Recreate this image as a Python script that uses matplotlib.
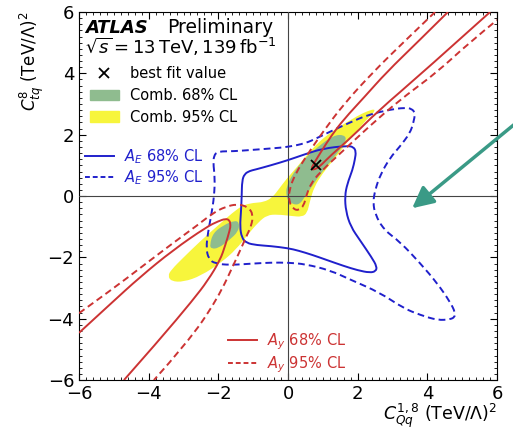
import matplotlib
matplotlib.use('Agg')
import matplotlib.pyplot as plt
from matplotlib.lines import Line2D
from matplotlib.patches import Patch, PathPatch
from matplotlib.path import Path
from matplotlib.ticker import MultipleLocator

# contour points, (C_Qq^{1,8}, C_tq^8)
comb95_x = [-3.45, -3.35, -3.0, -2.5, -2.0, -1.6, -1.3, -1.0, -0.7, -0.45, -0.25, -0.05, 0.26, 0.6, 0.9, 1.2, 1.5, 2.0, 2.3, 2.5,
            2.45, 2.3, 2.0, 1.75, 1.5, 1.25, 1.0, 0.75, 0.62, 0.55, 0.4, 0.1, -0.3, -0.6, -0.85, -1.15, -1.5, -1.9, -2.5, -3.0, -3.35]
comb95_y = [-2.6, -2.4, -2.0, -1.45, -0.95, -0.55, -0.3, -0.22, -0.2, -0.05, 0.25, 0.55, 0.95, 1.42, 1.78, 2.05, 2.28, 2.62, 2.78, 2.84,
            2.7, 2.55, 2.15, 1.85, 1.45, 1.1, 0.75, 0.3, -0.2, -0.55, -0.68, -0.65, -0.6, -0.62, -0.85, -1.25, -1.75, -2.15, -2.6, -2.8, -2.78]

comb68a_x = [0.02, 0.3, 0.5, 0.9, 1.35, 1.68, 1.62, 1.3, 0.85, 0.45, 0.12, -0.05, -0.05]
comb68a_y = [-0.2, -0.32, 0.0, 0.68, 1.3, 1.8, 2.0, 1.98, 1.6, 1.2, 0.7, 0.3, 0.0]
comb68b_x = [-2.25, -2.15, -1.85, -1.55, -1.4, -1.42, -1.7, -2.0, -2.2]
comb68b_y = [-1.6, -1.2, -0.95, -0.8, -0.85, -1.15, -1.45, -1.7, -1.72]

ae68_x = [-1.33, -1.32, -1.25, -1.1, -0.95, -0.5, 0.0, 0.45, 1.0, 1.7, 1.88, 1.95, 1.92, 1.85, 1.7, 1.63, 1.66, 1.8, 2.07, 2.4,
          2.55, 2.52, 2.35, 2.0, 1.6, 1.1, 0.7, 0.3, 0.0, -0.5, -0.9, -1.2, -1.33, -1.38, -1.35]
ae68_y = [0.0, 0.5, 0.72, 0.82, 0.86, 1.0, 1.17, 1.35, 1.55, 1.64, 1.6, 1.45, 1.2, 0.85, 0.4, 0.0, -0.5, -1.0, -1.45, -2.0,
          -2.3, -2.45, -2.5, -2.42, -2.28, -2.08, -1.92, -1.78, -1.7, -1.63, -1.6, -1.53, -1.35, -1.0, -0.5]

ae95_x = [-2.15, -2.12, -2.05, -1.9, -1.58, -1.09, -0.5, 0.0, 0.5, 0.83, 1.3, 1.78, 2.3, 2.93, 3.35, 3.55, 3.65, 3.6, 3.5, 3.2,
          2.93, 2.65, 2.5, 2.44, 2.5, 2.75, 3.22, 3.8, 4.28, 4.65, 4.8, 4.78, 4.65, 4.3, 3.8, 3.3, 2.64, 1.78, 1.2, 0.5,
          0.0, -0.5, -1.0, -1.67, -2.1, -2.28, -2.35, -2.3, -2.2, -2.12, -2.1]
ae95_y = [1.1, 1.32, 1.42, 1.46, 1.46, 1.5, 1.55, 1.6, 1.72, 1.89, 2.15, 2.4, 2.65, 2.82, 2.88, 2.85, 2.7, 2.4, 2.05, 1.6,
          1.25, 0.7, 0.2, -0.2, -0.6, -1.1, -1.5, -2.2, -2.84, -3.45, -3.8, -3.95, -4.02, -4.05, -3.88, -3.65, -3.15, -2.72, -2.42, -2.22,
          -2.17, -2.17, -2.2, -2.25, -2.2, -2.05, -1.7, -1.2, -0.6, 0.0, 0.6]

ay68_lo_x = [-6, -5.1, -4.25, -3.3, -2.33, -2.0, -1.8, -1.68, -1.65, -1.67, -1.8, -1.95, -2.3, -2.73, -3.7, -4.71]
ay68_lo_y = [-4.46, -3.52, -2.64, -1.76, -1.0, -0.82, -0.74, -0.78, -0.95, -1.1, -1.6, -2.09, -2.75, -3.39, -4.7, -6]
ay68_hi_x = [4.59, 3.7, 2.83, 2.2, 1.6, 1.25, 0.95, 0.75, 0.66, 0.74, 0.9, 1.2, 1.9, 2.55, 3.88, 5.8]
ay68_hi_y = [6, 5.0, 4.04, 3.24, 2.5, 1.98, 1.45, 1.08, 0.88, 0.86, 0.95, 1.3, 2.0, 2.74, 4.04, 6]

ay95_lo_x = [-6, -5, -4.25, -3.3, -2.6, -2.15, -1.8, -1.46, -1.15, -1.0, -1.05, -1.15, -1.46, -2.04, -2.9, -3.85]
ay95_lo_y = [-3.82, -3.0, -2.35, -1.53, -0.95, -0.55, -0.35, -0.26, -0.35, -0.6, -0.95, -1.2, -1.99, -3.39, -4.8, -6]
ay95_hi_x = [4.22, 3.3, 2.44, 1.6, 1.0, 0.55, 0.2, 0.03, 0.03, 0.15, 0.3, 0.45, 0.52, 0.65, 0.92, 1.6, 2.6, 3.4, 4.28, 5.2, 6]
ay95_hi_y = [6, 5.0, 4.04, 3.0, 2.09, 1.35, 0.7, 0.2, -0.2, -0.42, -0.47, -0.32, 0.0, 0.4, 0.78, 1.5, 2.55, 3.3, 4.04, 5.0, 5.74]

best_x, best_y = 0.8, 1.0

ticks = [-6, -4, -2, 0, 2, 4, 6]

c_red = '#cc3333'
c_blue = '#2020cc'
c_green = '#8fbc8f'
c_yellow = '#f7f53c'
dash = (2.5, 1.5)


def smooth(xs, ys, closed):
    # quadratic b-spline path with the read points as control points
    p = list(zip(xs, ys))
    mid = lambda a, b: ((a[0] + b[0]) / 2, (a[1] + b[1]) / 2)
    if closed:
        n = len(p)
        verts = [mid(p[-1], p[0])]
        codes = [Path.MOVETO]
        for i in range(n):
            verts += [p[i], mid(p[i], p[(i + 1) % n])]
            codes += [Path.CURVE3, Path.CURVE3]
        verts.append(verts[0])
        codes.append(Path.CLOSEPOLY)
    else:
        verts = [p[0]]
        codes = [Path.MOVETO]
        for i in range(1, len(p) - 2):
            verts += [p[i], mid(p[i], p[i + 1])]
            codes += [Path.CURVE3, Path.CURVE3]
        verts += [p[-2], p[-1]]
        codes += [Path.CURVE3, Path.CURVE3]
    return Path(verts, codes)


def area(ax, xs, ys, color, z):
    ax.add_patch(PathPatch(smooth(xs, ys, True), facecolor=color, edgecolor='none', zorder=z))


def curve(ax, xs, ys, color, closed, dashed):
    pp = PathPatch(smooth(xs, ys, closed), facecolor='none', edgecolor=color, lw=1.4, zorder=5)
    if dashed:
        pp.set_linestyle((0, (dash[0] * 1.4, dash[1] * 1.4)))
    ax.add_patch(pp)


fig = plt.figure(figsize=(5.13, 4.29), dpi=100)
ax = fig.add_axes([0.154, 0.114, 0.815, 0.858])

area(ax, comb95_x, comb95_y, c_yellow, 1)
area(ax, comb68a_x, comb68a_y, c_green, 2)
area(ax, comb68b_x, comb68b_y, c_green, 2)

ax.axhline(0, color='#444444', lw=0.8, zorder=3)
ax.axvline(0, color='#444444', lw=0.8, zorder=3)

curve(ax, ae68_x, ae68_y, c_blue, True, False)
curve(ax, ae95_x, ae95_y, c_blue, True, True)
curve(ax, ay68_lo_x, ay68_lo_y, c_red, False, False)
curve(ax, ay68_hi_x, ay68_hi_y, c_red, False, False)
curve(ax, ay95_lo_x, ay95_lo_y, c_red, False, True)
curve(ax, ay95_hi_x, ay95_hi_y, c_red, False, True)
ax.plot(best_x, best_y, 'x', color='black', ms=7, mew=1.3, zorder=6)

ax.set_xlim(-6, 6)
ax.set_ylim(-6, 6)
ax.set_xticks(ticks)
ax.set_yticks(ticks)
ax.xaxis.set_minor_locator(MultipleLocator(0.2))
ax.yaxis.set_minor_locator(MultipleLocator(0.2))
ax.tick_params(which='both', direction='in', top=True, right=True, labelsize=13)
ax.tick_params(which='major', length=5)
ax.tick_params(which='minor', length=2.5)

ax.set_xlabel(r'$C_{Qq}^{1,8}$ (TeV/$\Lambda)^2$', fontsize=12.5, loc='right', labelpad=-1.2)
ax.set_ylabel(r'$C_{tq}^{8}$ (TeV/$\Lambda)^2$', fontsize=12, loc='top', labelpad=1)

ax.text(0.014, 0.957, 'ATLAS', transform=ax.transAxes, fontsize=13, fontweight='bold',
        fontstyle='italic', va='center')
ax.text(0.21, 0.957, 'Preliminary', transform=ax.transAxes, fontsize=13.5, va='center')
ax.text(0.014, 0.905, r'$\sqrt{s} = 13\,\mathrm{TeV}, 139\,\mathrm{fb}^{-1}$', transform=ax.transAxes,
        fontsize=13, va='center')

h1 = [Line2D([], [], marker='x', color='black', ls='none', ms=7, mew=1.3),
      Patch(color=c_green), Patch(color=c_yellow)]
leg1 = ax.legend(h1, ['best fit value', 'Comb. 68% CL', 'Comb. 95% CL'], loc='upper left',
                 bbox_to_anchor=(0.026, 0.852), frameon=False, fontsize=10.5, borderpad=0,
                 borderaxespad=0, handlelength=2.0, handletextpad=0.75, labelspacing=0.45)
ax.add_artist(leg1)

h2 = [Line2D([], [], color=c_blue, lw=1.4), Line2D([], [], color=c_blue, lw=1.4, dashes=dash)]
leg2 = ax.legend(h2, [r'$A_E$ 68% CL', r'$A_E$ 95% CL'], loc='upper left',
                 bbox_to_anchor=(0.014, 0.632), frameon=False, fontsize=10.5, borderpad=0,
                 borderaxespad=0, handlelength=2.0, handletextpad=0.7, labelspacing=0.15,
                 labelcolor='linecolor')
ax.add_artist(leg2)

h3 = [Line2D([], [], color=c_red, lw=1.4), Line2D([], [], color=c_red, lw=1.4, dashes=dash)]
ax.legend(h3, [r'$A_y$ 68% CL', r'$A_y$ 95% CL'], loc='upper left',
          bbox_to_anchor=(0.356, 0.133), frameon=False, fontsize=10.5, borderpad=0,
          borderaxespad=0, handlelength=2.0, handletextpad=0.7, labelspacing=0.18,
          labelcolor='linecolor')

# teal arrow pointing into the plot
ax.annotate('', xy=(410, 219), xycoords='figure pixels', xytext=(516, 306), textcoords='figure pixels',
            arrowprops=dict(arrowstyle='-|>', color='#3a9a86', lw=2.5, mutation_scale=32),
            annotation_clip=False)

fig.savefig('out.png', dpi=100)
